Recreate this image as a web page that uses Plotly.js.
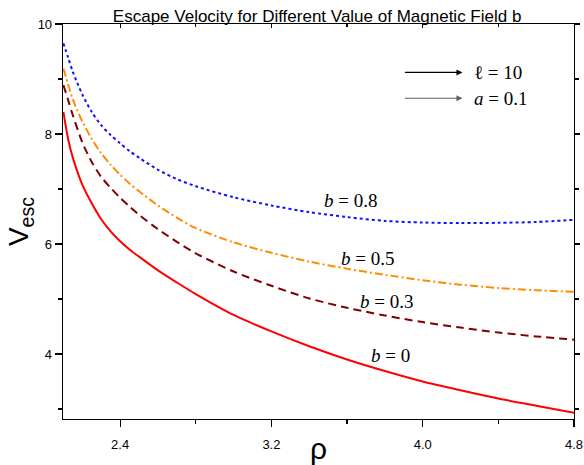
<!DOCTYPE html>
<html>
<head>
<meta charset="utf-8">
<script src="https://cdn.plot.ly/plotly-3.0.1.min.js"></script>
<style>html,body{margin:0;padding:0;background:#fff;}#chart{width:584px;height:465px;}</style>
</head>
<body>
<div id="chart"></div>
<script>
// rho values (shared grid)
const rho = [2.1, 2.125, 2.15, 2.2, 2.25, 2.3, 2.35, 2.4, 2.45, 2.5, 2.6, 2.7, 2.8, 3.0, 3.2, 3.4, 3.6, 3.8, 4.0, 4.2, 4.4, 4.6, 4.8];
// escape velocity, b = 0.8
const vB08 = [9.65, 9.39, 9.13, 8.72, 8.40, 8.16, 7.98, 7.83, 7.69, 7.57, 7.35, 7.18, 7.05, 6.85, 6.70, 6.58, 6.49, 6.42, 6.39, 6.38, 6.385, 6.40, 6.44];
// escape velocity, b = 0.5
const vB05 = [9.19, 8.90, 8.63, 8.23, 7.91, 7.65, 7.44, 7.26, 7.10, 6.96, 6.70, 6.48, 6.29, 6.03, 5.84, 5.68, 5.55, 5.44, 5.34, 5.26, 5.20, 5.16, 5.13];
// escape velocity, b = 0.3
const vB03 = [8.89, 8.62, 8.34, 7.85, 7.49, 7.22, 7.02, 6.84, 6.68, 6.53, 6.27, 6.04, 5.83, 5.50, 5.24, 5.01, 4.84, 4.70, 4.58, 4.48, 4.39, 4.32, 4.26];
// escape velocity, b = 0
const vB00 = [8.40, 7.91, 7.57, 7.08, 6.74, 6.45, 6.23, 6.05, 5.90, 5.77, 5.52, 5.30, 5.09, 4.71, 4.41, 4.14, 3.90, 3.69, 3.50, 3.34, 3.19, 3.06, 2.93];

const seriesNames = ['b = 0.8', 'b = 0.5', 'b = 0.3', 'b = 0'];
const labelText = ['<i>b</i> = 0.8', '<i>b</i> = 0.5', '<i>b</i> = 0.3', '<i>b</i> = 0'];
const labelX = [3.62, 3.71, 3.81, 3.83];
const labelY = [6.80, 5.74, 4.95, 3.98];
const paramText = ['ℓ = 10', '<i>a</i> = 0.1'];
const paramX = [4.21, 4.21];
const paramY = [9.12, 8.65];

const traces = [
  {x: rho, y: vB08, name: seriesNames[0], mode: 'lines', line: {color: '#1010ff', width: 2, dash: '3px,3px', shape: 'spline', smoothing: 0.8}},
  {x: rho, y: vB05, name: seriesNames[1], mode: 'lines', line: {color: '#ff8c00', width: 2, dash: '8px,3px,2px,3px', shape: 'spline', smoothing: 0.8}},
  {x: rho, y: vB03, name: seriesNames[2], mode: 'lines', line: {color: '#800000', width: 2, dash: '8px,5px', shape: 'spline', smoothing: 0.8}},
  {x: rho, y: vB00, name: seriesNames[3], mode: 'lines', line: {color: '#ff0000', width: 2, shape: 'spline', smoothing: 0.8}},
  {x: [null], y: [null], xaxis: 'x2', yaxis: 'y2', mode: 'lines', showlegend: false, hoverinfo: 'skip'}
];

const serif = {family: 'Liberation Serif, Times New Roman, serif', size: 19, color: '#000'};
const annotations = [];
for (let i = 0; i < labelText.length; i++) {
  annotations.push({x: labelX[i], y: labelY[i], xref: 'x', yref: 'y', text: labelText[i], showarrow: false, font: serif});
}
const arrowColors = ['#000000', '#606060'];
for (let i = 0; i < paramText.length; i++) {
  annotations.push({x: paramX[i], y: paramY[i], xref: 'x', yref: 'y', text: '', showarrow: true,
    ax: -59, ay: 0, arrowhead: 2, arrowsize: 1, arrowwidth: 1.2, arrowcolor: arrowColors[i], standoff: 0});
  annotations.push({x: paramX[i], y: paramY[i], xref: 'x', yref: 'y', text: paramText[i], showarrow: false,
    xanchor: 'left', xshift: 10, font: serif});
}

const tickFont = {family: 'Liberation Sans, Arial, sans-serif', size: 13, color: '#000'};
const axisCommon = {
  showline: true, linecolor: '#000', linewidth: 1.3, mirror: true,
  ticks: 'outside', ticklen: 7, tickwidth: 1.2, tickcolor: '#000',
  showgrid: false, zeroline: false, tickfont: tickFont
};

const layout = {
  width: 584, height: 465,
  margin: {l: 63, r: 10, t: 24, b: 46},
  paper_bgcolor: '#fff', plot_bgcolor: '#fff',
  showlegend: false,
  title: {text: 'Escape Velocity for Different Value of Magnetic Field b',
    font: {family: 'Liberation Sans, Arial, sans-serif', size: 17, color: '#000'},
    x: 0.543, xanchor: 'center', y: 0.966, yanchor: 'middle'},
  xaxis: Object.assign({}, axisCommon, {
    range: [2.098, 4.8], tick0: 2.4, dtick: 0.8, tickformat: '.1f', ticklabelstandoff: 6,
    minor: {dtick: 0.4, tick0: 2.4, ticks: 'outside', ticklen: 4, tickwidth: 1.2, tickcolor: '#000'},
    title: {text: 'ρ', font: {family: 'Liberation Sans, Arial, sans-serif', size: 30, color: '#000'}, standoff: 0}
  }),
  yaxis: Object.assign({}, axisCommon, {
    range: [2.818, 10], tick0: 0, dtick: 2,
    minor: {dtick: 1, tick0: 0, ticks: 'outside', ticklen: 4, tickwidth: 1.2, tickcolor: '#000'},
    title: {text: 'V<sub>esc</sub>', font: {family: 'Liberation Sans, Arial, sans-serif', size: 28, color: '#000'}, standoff: 0}
  }),
  xaxis2: {
    overlaying: 'x', side: 'top', matches: 'x', anchor: 'y2',
    range: [2.098, 4.8], tick0: 2.4, dtick: 0.8, showticklabels: false,
    ticks: 'inside', ticklen: 4, tickwidth: 1.2, tickcolor: '#000',
    minor: {dtick: 0.4, tick0: 2.4, ticks: 'inside', ticklen: 3, tickwidth: 1.2, tickcolor: '#000'},
    showline: false, showgrid: false, zeroline: false
  },
  yaxis2: {
    overlaying: 'y', side: 'right', matches: 'y', anchor: 'x2',
    range: [2.818, 10], tick0: 0, dtick: 2, showticklabels: false,
    ticks: 'outside', ticklen: 5, tickwidth: 1.2, tickcolor: '#000',
    minor: {dtick: 1, tick0: 0, ticks: 'outside', ticklen: 4, tickwidth: 1.2, tickcolor: '#000'},
    showline: false, showgrid: false, zeroline: false
  },
  annotations: annotations
};

Plotly.newPlot('chart', traces, layout, {displayModeBar: false, staticPlot: true});
</script>
</body>
</html>
